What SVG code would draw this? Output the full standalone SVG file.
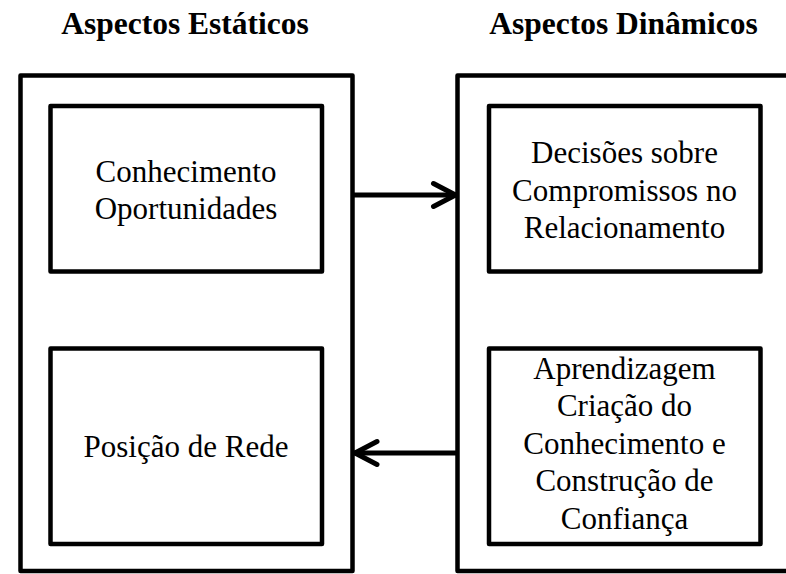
<svg xmlns="http://www.w3.org/2000/svg" width="786" height="574" viewBox="0 0 786 574">
  <style>
    .box { fill: #ffffff; stroke: #000000; stroke-width: 4.5; stroke-linejoin: round; }
    .title { font-family: "Liberation Serif", "Times New Roman", serif; font-weight: bold; font-size: 31.5px; fill: #000000; text-anchor: middle; }
    .label { font-family: "Liberation Serif", "Times New Roman", serif; font-size: 31px; fill: #000000; text-anchor: middle; }
    .conn { fill: none; stroke: #000000; stroke-width: 5; stroke-linecap: round; }
  </style>
  <defs>
    <marker id="chev" markerUnits="userSpaceOnUse" markerWidth="40" markerHeight="40" refX="0" refY="0" viewBox="-30 -20 40 40" orient="auto" overflow="visible">
      <path d="M-22,-11.5 L0,0 L-22,11.5" fill="none" stroke="#000000" stroke-width="5" stroke-linecap="round" stroke-linejoin="round"/>
    </marker>
  </defs>
  <rect width="786" height="574" fill="#ffffff"/>

  <g id="title-static">
    <text class="title" x="185" y="33.5">Aspectos Estáticos</text>
  </g>
  <g id="title-dynamic">
    <text class="title" x="623.5" y="33.5">Aspectos Dinâmicos</text>
  </g>

  <g id="static-group">
    <rect class="box" x="20.5" y="75.5" width="332" height="495.5"/>
  </g>
  <g id="dynamic-group">
    <rect class="box" x="457.5" y="75.5" width="360" height="495.5"/>
  </g>

  <g id="node-conhecimento">
    <rect class="box" x="50.5" y="106" width="271.5" height="165.5"/>
    <text class="label" x="186" y="181.5">Conhecimento</text>
    <text class="label" x="186" y="218.5">Oportunidades</text>
  </g>
  <g id="node-posicao">
    <rect class="box" x="50.5" y="348.5" width="271.5" height="195.5"/>
    <text class="label" x="186" y="456.5">Posição de Rede</text>
  </g>
  <g id="node-decisoes">
    <rect class="box" x="489" y="106" width="271.5" height="165.5"/>
    <text class="label" x="624.5" y="163">Decisões sobre</text>
    <text class="label" x="624.5" y="200.5">Compromissos no</text>
    <text class="label" x="624.5" y="238">Relacionamento</text>
  </g>
  <g id="node-aprendizagem">
    <rect class="box" x="489" y="348.5" width="271.5" height="195.5"/>
    <text class="label" x="624.5" y="378.5">Aprendizagem</text>
    <text class="label" x="624.5" y="416">Criação do</text>
    <text class="label" x="624.5" y="453.5">Conhecimento e</text>
    <text class="label" x="624.5" y="491">Construção de</text>
    <text class="label" x="624.5" y="528.5">Confiança</text>
  </g>

  <g id="connectors">
    <path class="conn" d="M354,195 L455.5,195" marker-end="url(#chev)"/>
    <path class="conn" d="M456,453 L355,453" marker-end="url(#chev)"/>
  </g>
</svg>
